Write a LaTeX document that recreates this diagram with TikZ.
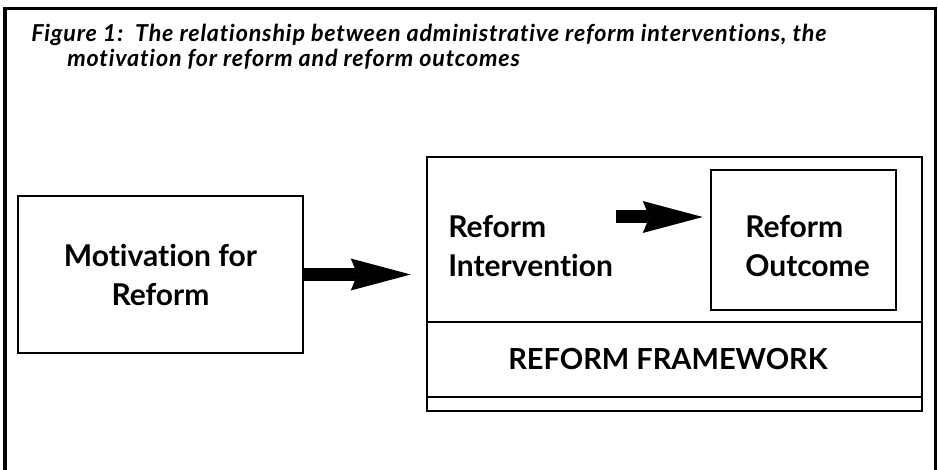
\documentclass[tikz,border=0pt]{standalone}
\usepackage{fontspec}
\setmainfont{Lato}[Ligatures=NoCommon]
\usetikzlibrary{arrows.meta,positioning,calc}

\begin{document}
\begin{tikzpicture}[x=0.75pt,y=-0.75pt,
 box/.style={draw,line width=1.9pt,inner sep=0pt},
 label/.style={inner sep=0pt,font=\fontsize{22.5}{29.25}\selectfont\bfseries},
 caption/.style={inner sep=0pt,align=left,font=\fontsize{17.5}{18.75}\selectfont\bfseries\itshape\addfontfeature{LetterSpace=3.5}},
 fatarrow/.style={line width=9.75pt,-{Stealth[length=45pt,width=24pt,inset=5pt,line width=0pt]}}]
\useasboundingbox (0,0) rectangle (938,470);
% page frame, open at the bottom
\draw[line width=2.3pt] (5,472) -- (5,8.5) -- (935.5,8.5) -- (935.5,472);
\node[caption,anchor=north west] (ttl) at (31,24) {Figure 1:\ \ The relationship between administrative reform interventions, the\\\hspace*{27pt}motivation for reform and reform outcomes};

% left box
\node[box,label,align=center,minimum width=213.75pt,minimum height=117.75pt] (mot) at (160.5,274.5) {Motivation for\\Reform};

% framework box with its two bands
\node[box,minimum width=371.25pt,minimum height=190.5pt] (frm) at (674.5,284) {};
\coordinate (band) at (0,322);
\coordinate (foot) at (0,397);
\draw[line width=1.9pt] (frm.west |- band) -- (frm.east |- band);
\draw[line width=1.9pt] (frm.west |- foot) -- (frm.east |- foot);
\node[label,font=\fontsize{21.75}{29.25}\selectfont\bfseries] (fwk) at (668,359.5) {REFORM FRAMEWORK};

\node[label,align=left,anchor=west] (intv) at (448,246.5) {Reform\\Intervention};
\node[box,minimum width=138.75pt,minimum height=105pt] (outc) at (803.5,240) {};
\node[label,align=left,anchor=west] (outlbl) at (745,246.5) {Reform\\Outcome};

% arrows
\coordinate (a2) at (616,217);
\draw[fatarrow,shorten >=11.25pt] (mot.east) -- (mot.east -| frm.west);
\draw[fatarrow,shorten >=5.25pt] (a2) -- (a2 -| outc.west);
\end{tikzpicture}
\end{document}
